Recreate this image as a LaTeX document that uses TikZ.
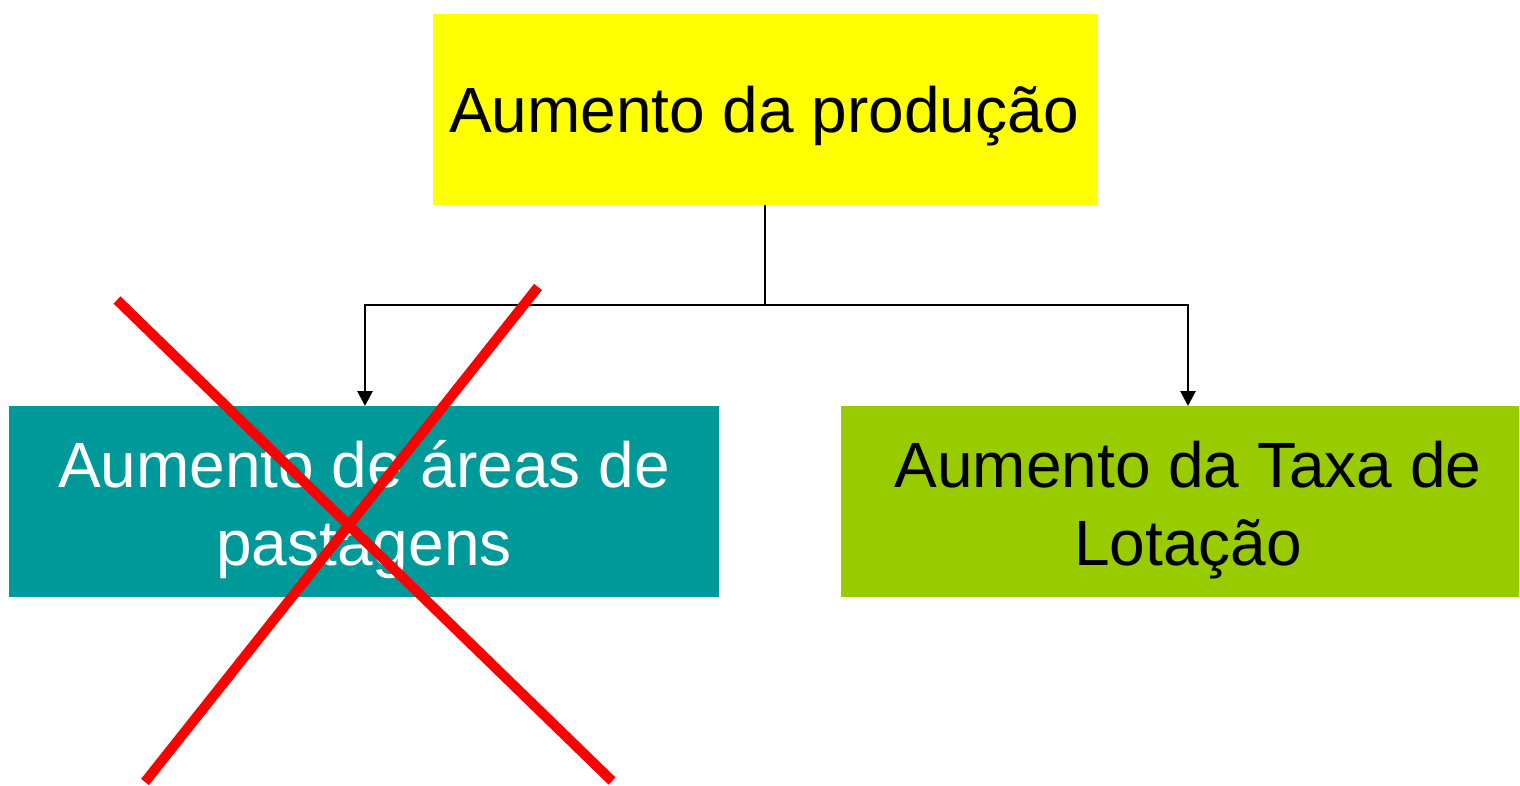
\documentclass[tikz,border=0pt]{standalone}
\usepackage{fontspec}
\setmainfont{Liberation Sans}
\usetikzlibrary{arrows.meta}
\definecolor{boxyellow}{HTML}{FFFF00}
\definecolor{boxteal}{HTML}{009999}
\definecolor{boxgreen}{HTML}{99CC00}
\definecolor{crossred}{HTML}{FF0000}
\begin{document}
\begin{tikzpicture}[x=1pt,y=-1pt,
  boxstyle/.style={draw=none,minimum height=191pt,inner sep=0pt},
  labelstyle/.style={align=center,inner sep=0pt,font=\fontsize{64}{78}\selectfont},
  conn/.style={line width=2.8pt,black},
  arr/.style={conn,-{Triangle[length=15pt,width=15pt]}},
  crossline/.style={line width=10pt,crossred}]
\useasboundingbox (0,0) rectangle (1520,785);
\node[boxstyle,fill=boxyellow,minimum width=665pt] (top) at (765,109.5) {};
\node[labelstyle,text=black] (toplabel) at (764,116) {Aumento da produção};
\node[boxstyle,fill=boxteal,minimum width=710pt] (left) at (364,501.5) {};
\node[labelstyle,text=white] (leftlabel) at (364,510) {Aumento de áreas de\\pastagens};
\node[boxstyle,fill=boxgreen,minimum width=678pt] (right) at (1180,501.5) {};
\node[labelstyle,text=black] (rightlabel) at (1188,510) {Aumento da Taxa de\\Lotação};
\coordinate (split) at (765,305);
\coordinate (lefttip) at (365,406);
\coordinate (righttip) at (1188,406);
\draw[conn] (top.south) -- (split);
\draw[arr] (split) -| (lefttip);
\draw[arr] (split) -| (righttip);
\coordinate (c1s) at (117,300);
\coordinate (c1e) at (612,781);
\coordinate (c2s) at (538,287);
\coordinate (c2e) at (145,782);
\draw[crossline] (c1s) -- (c1e);
\draw[crossline] (c2s) -- (c2e);
\end{tikzpicture}
\end{document}
